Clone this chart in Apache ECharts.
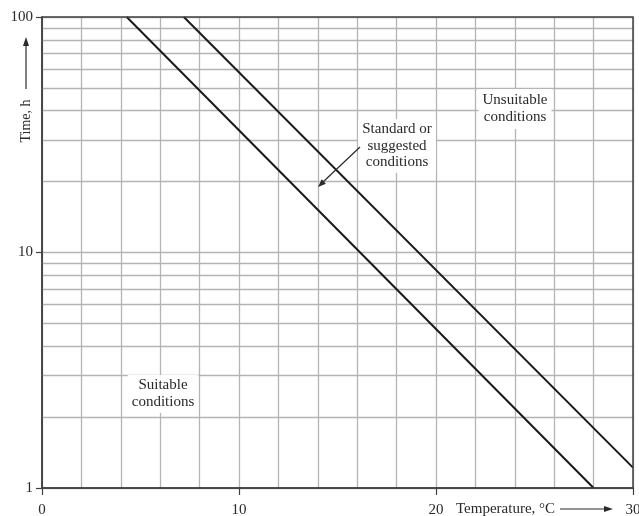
<!DOCTYPE html>
<html><head><meta charset="utf-8">
<script src="https://cdn.jsdelivr.net/npm/echarts@6/dist/echarts.min.js"></script>
<style>html,body{margin:0;padding:0;background:#fff}#c{width:639px;height:516px}</style>
</head><body><div id="c"></div>
<script>
// Data
const suitableLimit = [[4.3, 100], [28.0, 1]];      // lower boundary line (temperature °C, time h)
const unsuitableLimit = [[7.2, 100], [30.0, 1.22]]; // upper boundary line
const minorTimeLines = [2,3,4,5,6,7,8,9,20,30,40,50,60,70,80,90];
const xTickLabels = [0, 10, 20, 30];
const yTickLabels = [1, 10, 100];

const FONT = 'Liberation Serif';
const TXT = '#2a2a2a';
const GRID = '#b4b4b4';
const AXIS = '#404040';

const chart = echarts.init(document.getElementById('c'), null, {renderer: 'canvas'});
const option = {
  animation: false,
  backgroundColor: '#fff',
  grid: {left: 42, right: 6, top: 17, bottom: 28, containLabel: false, outerBoundsMode: 'none',
    show: true, borderColor: AXIS, borderWidth: 1.5, backgroundColor: 'transparent', z: 5},
  xAxis: [
    {type: 'value', min: 0, max: 30, interval: 10,
     axisLine: {show: true, lineStyle: {color: AXIS, width: 1.5}},
     axisTick: {show: true, length: 7, lineStyle: {color: AXIS, width: 1.2}},
     axisLabel: {margin: 15, fontFamily: FONT, fontSize: 15, color: TXT,
       formatter: v => xTickLabels.includes(v) ? String(v) : ''},
     splitLine: {show: false}},
    {type: 'value', min: 0, max: 30, interval: 2, position: 'bottom',
     axisLine: {show: false}, axisTick: {show: false}, axisLabel: {show: false},
     splitLine: {show: true, lineStyle: {color: GRID, width: 1.3}}}
  ],
  yAxis: {type: 'log', logBase: 10, min: 1, max: 100,
    axisLine: {show: true, lineStyle: {color: AXIS, width: 1.5}},
    axisTick: {show: true, length: 6, lineStyle: {color: AXIS, width: 1.2}},
    axisLabel: {margin: 9, fontFamily: FONT, fontSize: 15, color: TXT,
      formatter: v => yTickLabels.includes(Math.round(v)) ? String(Math.round(v)) : ''},
    splitLine: {show: true, lineStyle: {color: GRID, width: 1.3}}
  },
  series: [
    {type: 'line', xAxisIndex: 0, data: suitableLimit, symbol: 'none', silent: true,
     lineStyle: {color: '#1a1a1a', width: 2}, z: 3,
     markLine: {silent: true, symbol: 'none', label: {show: false}, animation: false,
       lineStyle: {color: GRID, width: 1.3, type: 'solid'},
       data: minorTimeLines.map(v => ({yAxis: v})), z: 1}},
    {type: 'line', xAxisIndex: 0, data: unsuitableLimit, symbol: 'none', silent: true,
     lineStyle: {color: '#1a1a1a', width: 2}, z: 3}
  ],
  graphic: [
    // y axis name with arrow
    {type: 'text', x: 26, y: 121, rotation: Math.PI / 2,
     style: {text: 'Time, h', font: '14px "Liberation Serif"', fill: TXT, textAlign: 'center', textVerticalAlign: 'middle'}},
    {type: 'line', shape: {x1: 26, y1: 89, x2: 26, y2: 44}, style: {stroke: TXT, lineWidth: 1.2}},
    {type: 'polygon', shape: {points: [[26, 37], [23, 46], [29, 46]]}, style: {fill: TXT}},
    // x axis name with arrow
    {type: 'text', x: 456, y: 509,
     style: {text: 'Temperature, °C', font: '15px "Liberation Serif"', fill: TXT, textAlign: 'left', textVerticalAlign: 'middle'}},
    {type: 'line', shape: {x1: 560, y1: 509, x2: 606, y2: 509}, style: {stroke: TXT, lineWidth: 1.2}},
    {type: 'polygon', shape: {points: [[613, 509], [604, 506], [604, 512]]}, style: {fill: TXT}},
    // annotations
    {type: 'text', x: 515, y: 109, z: 10,
     style: {text: 'Unsuitable\nconditions', font: '15px "Liberation Serif"', lineHeight: 17, fill: TXT,
       textAlign: 'center', textVerticalAlign: 'middle', backgroundColor: '#fff', padding: [3, 4]}},
    {type: 'text', x: 397, y: 146, z: 10,
     style: {text: 'Standard or\nsuggested\nconditions', font: '15px "Liberation Serif"', lineHeight: 16.5, fill: TXT,
       textAlign: 'center', textVerticalAlign: 'middle', backgroundColor: '#fff', padding: [2, 4]}},
    {type: 'line', z: 10, shape: {x1: 360, y1: 147, x2: 323, y2: 182}, style: {stroke: TXT, lineWidth: 1.2}},
    {type: 'polygon', z: 10, shape: {points: [[318, 187], [325.9, 183.7], [321.7, 179.3]]}, style: {fill: TXT}},
    {type: 'text', x: 163, y: 394, z: 10,
     style: {text: 'Suitable\nconditions', font: '15px "Liberation Serif"', lineHeight: 17, fill: TXT,
       textAlign: 'center', textVerticalAlign: 'middle', backgroundColor: '#fff', padding: [2, 4]}}
  ]
};
chart.setOption(option);
</script></body></html>
